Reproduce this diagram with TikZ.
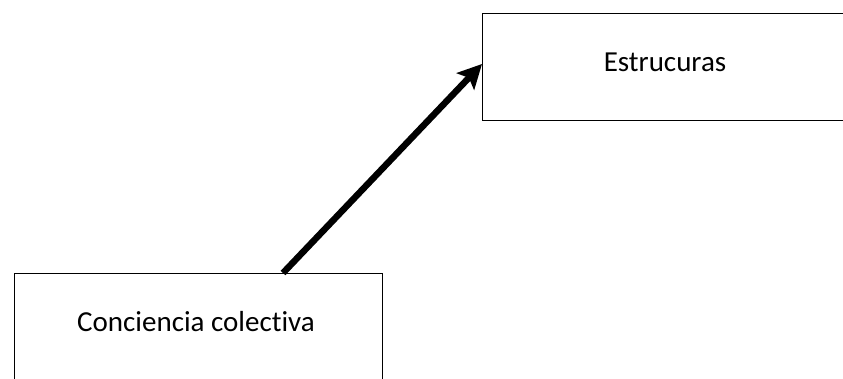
\documentclass[tikz,border=0pt]{standalone}
\usepackage{fontspec}
\setmainfont{Carlito}[Ligatures=NoCommon]
\usetikzlibrary{arrows.meta}
\begin{document}
\begin{tikzpicture}[x=1pt,y=-1pt,
  box/.style={draw=black, line width=1.3pt, rectangle, inner sep=0pt, anchor=north west},
  lbl/.style={font=\fontsize{29}{34}\selectfont, inner sep=0pt, anchor=center},
  link/.style={line width=6.5pt, -{Stealth[length=24pt, width=24pt, inset=5pt]}}]
  \useasboundingbox (0,0) rectangle (843,379);
  \begin{scope}
    \clip (0,0) rectangle (843,379);
    % upper box, running past the right edge
    \node[box, minimum width=370pt, minimum height=107pt] (a) at (482,13) {};
    % lower box, running past the bottom edge
    \node[box, minimum width=368pt, minimum height=120pt] (b) at (14,273) {};
  \end{scope}
  \node[lbl] (ta) at (665,62) {Estrucuras};
  \node[lbl] (tb) at (196,322) {Conciencia colectiva};
  \draw[link] ([xshift=269pt]b.north west) -- ([yshift=-51pt]a.north west);
\end{tikzpicture}
\end{document}
